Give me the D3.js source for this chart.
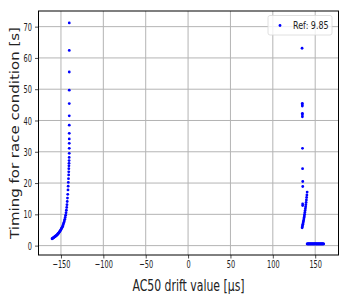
<!DOCTYPE html>
<html>
<head>
<meta charset="utf-8">
<script src="https://cdn.jsdelivr.net/npm/d3@7"></script>
<style>
  body { margin: 0; background: #fff; }
  text { font-family: 'DejaVu Sans', sans-serif; fill: #222; }
</style>
</head>
<body>
<div id="chart"></div>
<script>
// left branch (drift in µs, timing in s)
var driftLeft = [-160.5, -160, -159.5, -159, -158.5, -158, -157.5, -157, -156.5, -156, -155.5, -155,
  -154.5, -154, -153.5, -153, -152.5, -152, -151.5, -151, -150.5, -150, -149.5, -149, -148.5, -148,
  -147.5, -147, -146.5, -146, -145.5, -145, -144.5, -144, -143.6, -143.2, -142.9, -142.6, -142.3,
  -142.0, -141.7, -141.5, -141.3, -141.1, -140.9, -140.8, -140.7, -140.6, -140.5, -140.4, -140.3,
  -140.2, -140.2, -140.2, -140.2, -140.2, -140.2, -140.2, -140.2, -140.2, -140.2, -140.2, -140.2];
var timingLeft = [2.2, 2.3, 2.4, 2.5, 2.6, 2.7, 2.8, 2.9, 3.0, 3.1, 3.2, 3.3,
  3.5, 3.6, 3.8, 3.9, 4.1, 4.3, 4.5, 4.7, 4.9, 5.1, 5.4, 5.6, 5.9, 6.2,
  6.6, 7.0, 7.4, 7.9, 8.4, 9.0, 9.7, 10.5, 11.3, 12.2, 13.1, 14.1, 15.2,
  16.4, 17.8, 19.0, 20.2, 21.4, 22.6, 23.6, 24.6, 25.5, 26.3, 27.2, 28.2,
  29.5, 31.1, 32.7, 34.1, 35.9, 38.5, 41.5, 45.4, 49.7, 55.5, 62.4, 71.2];

// right branch, scattered points and curve
var driftRight = [134.5, 134.8, 134.8, 134.8, 134.9, 134.9, 134.9, 135.0, 135.1, 135.3, 135.3, 135.2, 135.2,
  134.6, 134.8, 135.1, 135.4, 135.7, 136.0, 136.3, 136.6, 136.9, 137.2, 137.5, 137.8, 138.1,
  138.4, 138.7, 139.0, 139.3, 139.6, 139.9, 140.2, 140.5];
var timingRight = [63.1, 45.5, 45.0, 44.6, 42.3, 41.8, 41.2, 31.1, 24.6, 20.5, 18.9, 13.3, 12.8,
  5.7, 6.0, 6.4, 6.8, 7.2, 7.6, 8.0, 8.5, 9.0, 9.5, 10.0, 10.6, 11.2,
  11.8, 12.4, 13.1, 13.8, 14.6, 15.4, 16.2, 17.1];

// flat tail past the right branch
var driftFlat = [140.5, 141, 141.5, 142, 142.5, 143, 143.5, 144, 144.5, 145, 145.5, 146, 146.5, 147,
  147.5, 148, 148.5, 149, 149.5, 150, 150.5, 151, 151.5, 152, 152.5, 153, 153.5, 154, 154.5, 155,
  155.5, 156, 156.5, 157, 157.5, 158, 158.5, 159, 159.5, 160];
var timingFlat = [0.55, 0.55, 0.55, 0.55, 0.55, 0.55, 0.55, 0.55, 0.55, 0.55, 0.55, 0.55, 0.55, 0.55,
  0.55, 0.55, 0.55, 0.55, 0.55, 0.55, 0.55, 0.55, 0.55, 0.55, 0.55, 0.55, 0.55, 0.55, 0.55, 0.55,
  0.55, 0.55, 0.55, 0.55, 0.55, 0.55, 0.55, 0.55, 0.55, 0.55];

var xTicks = [-150, -100, -50, 0, 50, 100, 150];
var yTicks = [0, 10, 20, 30, 40, 50, 60, 70];
var legendLabel = 'Ref: 9.85';

var width = 346, height = 305;
var margin = { top: 11, right: 7.5, bottom: 50, left: 38.5 };
var squeeze = 0.6; // picture is squashed horizontally

var points = [];
driftLeft.forEach(function(d, i) { points.push([d, timingLeft[i]]); });
driftRight.forEach(function(d, i) { points.push([d, timingRight[i]]); });
driftFlat.forEach(function(d, i) { points.push([d, timingFlat[i]]); });

var svg = d3.select('#chart')
    .append('svg')
    .attr('width', width)
    .attr('height', height);

var x = d3.scaleLinear()
    .domain([-176.5, 177.5])
    .range([margin.left, width - margin.right]);

var y = d3.scaleLinear()
    .domain([-3, 75])
    .range([height - margin.bottom, margin.top]);

// grid
svg.append('g')
    .selectAll('line')
    .data(xTicks)
    .enter().append('line')
    .attr('x1', function(d) { return x(d); })
    .attr('x2', function(d) { return x(d); })
    .attr('y1', margin.top)
    .attr('y2', height - margin.bottom)
    .style('stroke', '#b4b4b4')
    .style('stroke-width', 1);

svg.append('g')
    .selectAll('line')
    .data(yTicks)
    .enter().append('line')
    .attr('x1', margin.left)
    .attr('x2', width - margin.right)
    .attr('y1', function(d) { return y(d); })
    .attr('y2', function(d) { return y(d); })
    .style('stroke', '#b4b4b4')
    .style('stroke-width', 1);

// axes
var xAxis = svg.append('g')
    .attr('transform', 'translate(0,' + (height - margin.bottom) + ')')
    .call(d3.axisBottom(x).tickValues(xTicks).tickSize(3.5).tickPadding(2)
        .tickFormat(function(d) { return d < 0 ? '\u2212' + Math.abs(d) : d; }));

var yAxis = svg.append('g')
    .attr('transform', 'translate(' + margin.left + ',0)')
    .call(d3.axisLeft(y).tickValues(yTicks).tickSize(3.5).tickPadding(3));

[xAxis, yAxis].forEach(function(a) {
    a.select('.domain').remove();
    a.selectAll('.tick line').style('stroke', '#222').style('stroke-width', 0.8);
    a.selectAll('.tick text')
        .style('font-family', "'DejaVu Sans', sans-serif")
        .style('font-size', '11px')
        .style('fill', '#222');
});

xAxis.selectAll('.tick text')
    .attr('transform', 'scale(' + squeeze + ',1)');

yAxis.selectAll('.tick text')
    .attr('x', -6.5 / squeeze)
    .attr('transform', 'scale(' + squeeze + ',1)');

// frame
svg.append('rect')
    .attr('x', margin.left)
    .attr('y', margin.top)
    .attr('width', width - margin.left - margin.right)
    .attr('height', height - margin.top - margin.bottom)
    .style('fill', 'none')
    .style('stroke', '#000')
    .style('stroke-width', 1);

// dots
svg.append('g')
    .selectAll('circle')
    .data(points)
    .enter().append('circle')
    .attr('cx', function(d) { return x(d[0]); })
    .attr('cy', function(d) { return y(d[1]); })
    .attr('r', 1.4)
    .style('fill', '#0000ff');

// axis labels
svg.append('text')
    .attr('transform', 'translate(' + ((margin.left + width - margin.right) / 2) + ',291) scale(0.68,1)')
    .attr('text-anchor', 'middle')
    .style('font-size', '16px')
    .text('AC50 drift value [\u03bcs]');

svg.append('text')
    .attr('transform', 'translate(19,' + ((margin.top + height - margin.bottom) / 2) + ') scale(0.78,1) rotate(-90)')
    .attr('text-anchor', 'middle')
    .style('font-size', '15px')
    .text('Timing for race condition [s]');

// legend
var legend = svg.append('g')
    .attr('transform', 'translate(268,15.5)');

legend.append('rect')
    .attr('width', 64)
    .attr('height', 19.5)
    .attr('rx', 2)
    .style('fill', '#fff')
    .style('fill-opacity', 0.8)
    .style('stroke', '#d8d8d8')
    .style('stroke-width', 0.8);

legend.append('circle')
    .attr('cx', 12)
    .attr('cy', 10)
    .attr('r', 1.4)
    .style('fill', '#0000ff');

legend.append('text')
    .attr('transform', 'translate(25,13.5) scale(0.8,1)')
    .style('font-size', '10px')
    .text(legendLabel);
</script>
</body>
</html>
